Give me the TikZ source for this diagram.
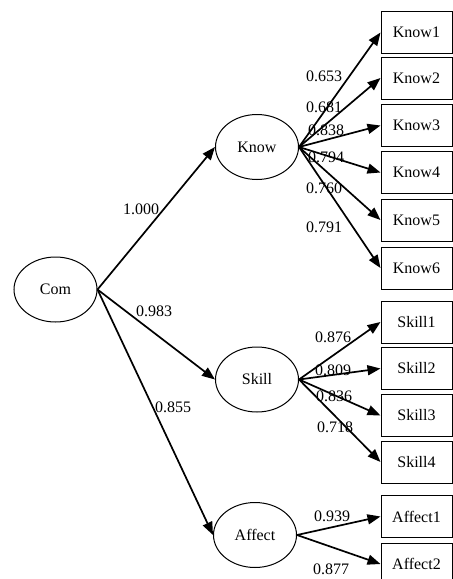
\documentclass[tikz,border=0pt]{standalone}
\usepackage{fontspec}
\setmainfont{Liberation Serif}
\usetikzlibrary{shapes.geometric,arrows.meta}
\begin{document}
\begin{tikzpicture}[x=1pt,y=-1pt,
  font=\fontsize{16}{18}\selectfont,
  latent/.style={draw,ellipse,line width=1pt,minimum width=83pt,minimum height=65pt,inner sep=0pt},
  obs/.style={draw,rectangle,line width=1pt,minimum width=71pt,minimum height=42pt,inner sep=0pt},
  path/.style={line width=1.7pt,-{Triangle[length=13pt,width=10pt]}},
  lab/.style={inner sep=0pt}]
\useasboundingbox (0,0) rectangle (453,579);
\clip (0,0) rectangle (453,579);
\node[latent] (com) at (55.5,289.5) {Com};
\node[latent] (know) at (257,147) {Know};
\node[latent] (skill) at (257,379.5) {Skill};
\node[latent] (affect) at (255,535) {Affect};
\foreach \n/\y in {1/32.5,2/78,3/125.5,4/172.5,5/220,6/268}
  \node[obs] (k\n) at (416.5,\y) {Know\n};
\foreach \n/\y in {1/322,2/368.5,3/415.5,4/462}
  \node[obs] (s\n) at (416.5,\y) {Skill\n};
\foreach \n/\y in {1/516.5,2/564}
  \node[obs] (a\n) at (416.5,\y) {Affect\n};
\draw[path] (com.east) -- (know.west);
\draw[path] (com.east) -- (skill.west);
\draw[path] (com.east) -- (affect.west);
\foreach \n in {1,...,6} \draw[path] (know.east) -- (k\n.west);
\foreach \n in {1,...,4} \draw[path] (skill.east) -- (s\n.west);
\foreach \n in {1,2} \draw[path] (affect.east) -- (a\n.west);
\node[lab] (l1) at (141,209) {1.000};
\node[lab] (l2) at (154,311) {0.983};
\node[lab] (l3) at (173,407) {0.855};
\node[lab] (lk1) at (324,76) {0.653};
\node[lab] (lk2) at (324,107) {0.681};
\node[lab] (lk3) at (326,130) {0.838};
\node[lab] (lk4) at (326,157) {0.794};
\node[lab] (lk5) at (324,188) {0.760};
\node[lab] (lk6) at (324,227) {0.791};
\node[lab] (ls1) at (333,337) {0.876};
\node[lab] (ls2) at (333,370) {0.809};
\node[lab] (ls3) at (334,396) {0.836};
\node[lab] (ls4) at (335,427) {0.718};
\node[lab] (la1) at (332,516) {0.939};
\node[lab] (la2) at (331,569) {0.877};
\end{tikzpicture}
\end{document}
